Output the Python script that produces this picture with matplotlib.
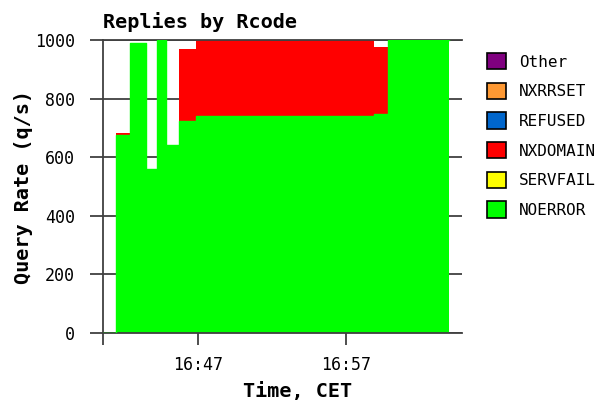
import matplotlib
matplotlib.use("Agg")
import matplotlib.pyplot as plt
from matplotlib.patches import Patch

# sample start times, minutes after 16:00 (last value = end of last sample)
minutes = [40.58, 41.44, 42.41, 43.47, 44.21, 44.82, 45.74, 46.84, 51.91, 53.82, 58.91, 59.86, 63.96]

# query rates per rcode (q/s), one value per sample
noerror = [0, 676, 990, 561, 1000, 641, 724, 742, 742, 742, 748, 1000, 1000]
servfail = [0, 0, 0, 0, 0, 0, 0, 0, 0, 0, 0, 0, 0]
nxdomain = [0, 6, 0, 0, 0, 0, 246, 258, 253, 258, 227, 0, 0]
refused = [0, 0, 0, 0, 0, 0, 0, 0, 0, 0, 0, 0, 0]
nxrrset = [0, 0, 0, 0, 0, 0, 0, 0, 0, 0, 0, 0, 0]
other = [0, 0, 0, 0, 0, 0, 0, 0, 0, 0, 0, 0, 0]

series = [("NOERROR", noerror, "#00ff00"),
          ("SERVFAIL", servfail, "#ffff00"),
          ("NXDOMAIN", nxdomain, "#ff0000"),
          ("REFUSED", refused, "#0066cc"),
          ("NXRRSET", nxrrset, "#ff9933"),
          ("Other", other, "#800080")]

xtick_pos = [47, 57]
xtick_labels = ["16:47", "16:57"]
yticks = [0, 200, 400, 600, 800, 1000]

mono = "DejaVu Sans Mono"

fig = plt.figure(figsize=(6.08, 4.01), dpi=100)
ax = fig.add_axes([103 / 608, 68 / 401, 359 / 608, 293 / 401])

# stacked step areas
base = [0] * len(minutes)
for name, vals, col in series:
    top = [b + v for b, v in zip(base, vals)]
    ax.fill_between(minutes, base, top, step="post", color=col, linewidth=0, zorder=2)
    base = top
# outline of the bottom layer (shows the zero sample too)
ax.step(minutes, noerror, where="post", color="#00ff00", lw=1, zorder=3)

ax.set_xlim(minutes[0], 64.84)
ax.set_ylim(0, 1000)

ax.set_axisbelow(True)
ax.yaxis.grid(True, color="#404040", lw=1.3)

ax.spines["right"].set_visible(False)
for s in ["left", "bottom", "top"]:
    ax.spines[s].set_color("#404040")
    ax.spines[s].set_linewidth(1.3)

ax.set_xticks([minutes[0]] + xtick_pos)
ax.set_xticklabels([""] + xtick_labels, fontfamily=mono, fontsize=12)
ax.set_yticks(yticks)
ax.set_yticklabels([str(v) for v in yticks], fontfamily=mono, fontsize=12)
ax.tick_params(axis="x", length=8.6, width=1.3, color="#404040", pad=8)
ax.tick_params(axis="y", length=9.4, width=1.3, color="#404040", pad=11)

ax.set_title("Replies by Rcode", loc="left", fontfamily=mono, fontweight="bold",
             fontsize=14.5, pad=9)
ax.set_xlabel("Time, CET", fontfamily=mono, fontweight="bold", fontsize=14.5)
ax.xaxis.set_label_coords(0.542, -0.168)
ax.set_ylabel("Query Rate (q/s)", fontfamily=mono, fontweight="bold", fontsize=14.5)
ax.yaxis.set_label_coords(-0.195, 0.5)

handles = [Patch(facecolor=col, edgecolor="black", linewidth=1.2, label=name)
           for name, vals, col in reversed(series)]
fig.legend(handles=handles, loc="upper left", bbox_to_anchor=(487 / 608, 1 - 53 / 401),
           frameon=False, prop={"family": mono, "size": 11.5},
           handlelength=1.2, handleheight=1.2, handletextpad=0.8,
           labelspacing=0.82, borderpad=0, borderaxespad=0)

fig.savefig("out.png", dpi=100)
